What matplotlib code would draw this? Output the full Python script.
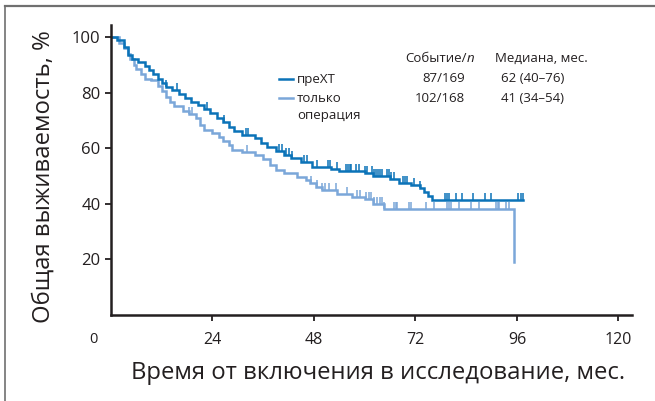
import numpy as np
import matplotlib
matplotlib.use("Agg")
import matplotlib.pyplot as plt
from matplotlib.path import Path
from matplotlib.lines import Line2D
from matplotlib.transforms import ScaledTranslation

# Kaplan-Meier steps: time (months) and survival (%) after each step
prext_t = [0, 1.5, 3, 4, 5, 6.5, 8, 9, 10, 11, 12, 13, 14.5, 16, 17.5, 19, 20.5, 22,
           23.5, 25, 26.5, 28, 29, 31, 34, 35.5, 37, 39, 41, 42.5, 45, 47.5, 52, 54,
           60, 62, 66, 68, 71, 73, 74, 75, 76, 97.5]
prext_s = [100, 99, 96.5, 93.5, 92, 91, 89.5, 88, 86.5, 85, 83.5, 82, 81, 79.5, 78,
           76.5, 75.5, 74, 72.6, 71, 69.3, 67.5, 66, 64.9, 63.5, 62, 60.5, 59, 57.5,
           56.5, 55, 53.3, 52.5, 51.8, 51, 50, 48.8, 47.6, 46.8, 45.8, 44.3, 42.8,
           41.4, 41.4]
prext_cens = [13, 15.6, 22.7, 26.7, 31.9, 32.5, 39.7, 40.4, 41.4, 42, 42.8, 45.6, 46.3,
              48.7, 51.3, 51.8, 53.4, 55.6, 56, 56.4, 56.8, 58, 58.6, 60, 60.5, 61.7,
              62.2, 62.7, 63.2, 63.6, 64, 65.3, 65.8, 66.3, 67, 69, 69.5, 70, 71.7, 73,
              79, 79.5, 80, 81.5, 83, 85.5, 88.5, 89.8, 96.3, 96.9, 97.5]

surg_t = [0, 2, 3, 4, 4.5, 5.5, 6, 7, 8, 9.5, 11, 12, 13, 14, 15, 17, 18.5, 20, 21,
          22, 24, 25.5, 26.5, 28, 28.5, 31, 34, 36, 37.5, 39, 41, 44, 46, 47, 48.5,
          50, 53.5, 57, 60, 62, 64.5, 95.3]
surg_s = [100, 98, 96, 94, 92, 90, 88.5, 86.5, 85, 84.5, 82.5, 80.5, 78.5, 76.5, 75,
          73.5, 72.3, 70.7, 68.5, 66.5, 65.3, 64, 62.5, 61, 59.5, 58.8, 57.5, 56, 54,
          52.3, 51, 49.8, 48.5, 47.6, 46.2, 45, 43.4, 42.5, 41.6, 40, 38, 19]
surg_cens = [18.5, 19.2, 32.2, 47.3, 48.7, 50, 50.5, 51.6, 53.3, 55.8, 58.2, 58.9,
             60.3, 60.9, 61.5, 62.2, 63, 63.6, 64.2, 64.6, 67, 67.4, 67.7, 70.5, 71,
             74.5, 76.4, 79.5, 80, 80.4, 82.3, 85.1, 87, 91, 91.4, 91.7, 93.4, 94]

x_ticks = [0, 24, 48, 72, 96, 120]
y_ticks = [20, 40, 60, 80, 100]

groups = ["преXT", "только\nоперация"]
events = ["87/169", "102/168"]
medians = ["62 (40–76)", "41 (34–54)"]

dark = "#0b73b8"
light = "#7ba7d9"
ink = "#231f20"

W, H = 655, 401
fig = plt.figure(figsize=(W / 100, H / 100), dpi=100)
plt.rcParams["font.family"] = ["Open Sans", "DejaVu Sans"]


def fx(px):
    return px / W


def fy(py):
    return 1 - py / H


ax = fig.add_axes([fx(111), fy(315), fx(632) - fx(111), fy(25) - fy(315)])
ax.set_xlim(0, 123.2)
ax.set_ylim(0, 104.3)

tick_mark = Path([(0, 0), (0, 1)])


def km(times, surv, cens, color):
    ax.step(times, surv, where="post", color=color, lw=1.8, solid_joinstyle="miter")
    t = np.asarray(times)
    s = np.asarray(surv)
    c = np.asarray(cens)
    idx = np.searchsorted(t, c, side="right") - 1
    ax.plot(c, s[idx], ls="none", marker=tick_mark, markersize=10,
            markeredgewidth=1.1, color=color)


km(surg_t, surg_s, surg_cens, light)
km(prext_t, prext_s, prext_cens, dark)

for side in ("top", "right"):
    ax.spines[side].set_visible(False)
for side in ("left", "bottom"):
    ax.spines[side].set_linewidth(1.8)
    ax.spines[side].set_color(ink)

ax.set_xticks(x_ticks)
ax.set_yticks(y_ticks)
ax.set_xticklabels([str(v) for v in x_ticks], fontsize=11.5, color=ink)
ax.set_yticklabels([str(v) for v in y_ticks], fontsize=12, color=ink)
ax.tick_params(axis="both", direction="out", length=4.5, width=1.3, color=ink)
ax.tick_params(axis="x", pad=8)
ax.tick_params(axis="y", pad=3)
# the origin label sits left of the axis, without a tick mark
t0 = ax.xaxis.get_major_ticks()[0]
t0.tick1line.set_visible(False)
t0.label1.set_fontsize(10.5)
t0.label1.set_transform(t0.label1.get_transform()
                        + ScaledTranslation(-0.18, 0, fig.dpi_scale_trans))

fig.text(fx(378), fy(373), "Время от включения в исследование, мес.",
         ha="center", va="center", fontsize=17.2, color=ink)
fig.text(fx(44), fy(177), "Общая выживаемость, %", rotation=90,
         ha="center", va="center", fontsize=17.2, color=ink)

# legend table
tsize = 9.5
fig.text(fx(467), fy(58), "Событие/", ha="right", va="center", fontsize=tsize, color=ink)
fig.text(fx(467), fy(58), "n", ha="left", va="center", fontsize=tsize,
         style="italic", color=ink)
fig.text(fx(541), fy(58), "Медиана, мес.", ha="center", va="center",
         fontsize=tsize, color=ink)
rows_y = [79, 98]
for color, name, ev, med, yy in zip([dark, light], groups, events, medians, rows_y):
    fig.add_artist(Line2D([fx(279), fx(293)], [fy(yy), fy(yy)], color=color, lw=1.8))
    fig.text(fx(297), fy(yy), name, ha="left", va="top", fontsize=tsize, color=ink,
             linespacing=1.5, transform=fig.transFigure
             + ScaledTranslation(0, 0.065, fig.dpi_scale_trans))
    fig.text(fx(465), fy(yy), ev, ha="right", va="center", fontsize=tsize, color=ink)
    fig.text(fx(501), fy(yy), med, ha="left", va="center", fontsize=tsize, color=ink)

# outer frame
frame = "#707070"
fig.add_artist(Line2D([fx(5), fx(655)], [fy(6), fy(6)], color=frame, lw=1.6))
fig.add_artist(Line2D([fx(5), fx(5)], [fy(6), fy(401)], color=frame, lw=1.2))

fig.savefig("out.png", dpi=100)
